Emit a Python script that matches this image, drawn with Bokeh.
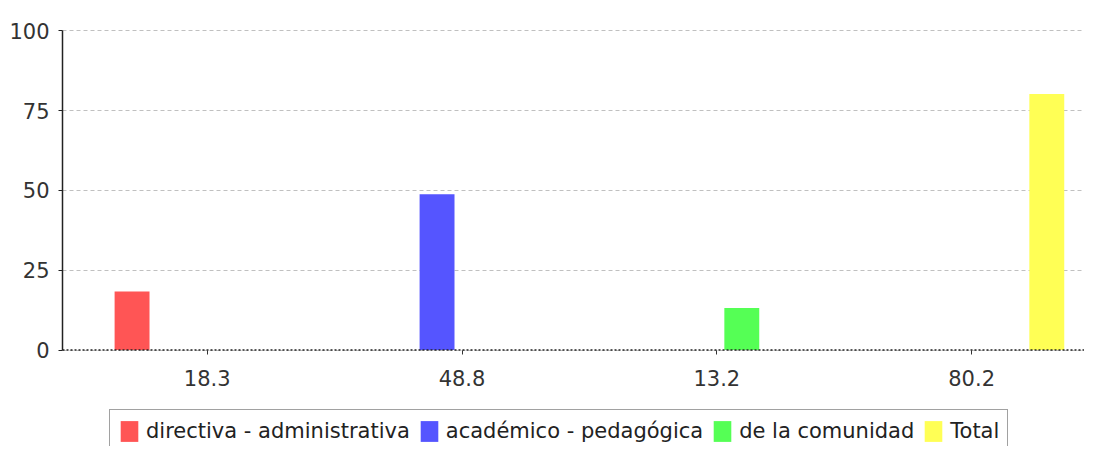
from bokeh.plotting import figure
from bokeh.models import Range1d, FixedTicker, Legend, LegendItem, Span, LinearAxis
from bokeh.embed import file_html
from bokeh.resources import INLINE

categories = ["18.3", "48.8", "13.2", "80.2"]
series_names = ["directiva - administrativa", "académico - pedagógica", "de la comunidad", "Total"]
directiva = [18.3, 0, 0, 0]
academico = [0, 48.8, 0, 0]
comunidad = [0, 0, 13.2, 0]
total = [0, 0, 0, 80.2]
series_values = [directiva, academico, comunidad, total]
colors = ["#FF5555", "#5555FF", "#55FF55", "#FFFF55"]
y_ticks = [0, 25, 50, 75, 100]

FONT = "DejaVu Sans"
FS = "21px"

p = figure(width=1084, height=446, output_backend="svg", toolbar_location=None,
           x_range=Range1d(-0.068, 3.943), y_range=Range1d(-30.24, 100.44),
           min_border_left=62, min_border_top=29, min_border_right=0,
           min_border_bottom=0, x_axis_location=None)
p.outline_line_color = None
p.background_fill_color = "white"

centers = [i + 0.5 for i in range(len(categories))]
offsets = [-0.295, -0.098, 0.098, 0.295]
bar_w = 0.137

items = []
for name, vals, col, off in zip(series_names, series_values, colors, offsets):
    xs = [c + off for c in centers]
    r = p.vbar(x=xs, top=vals, bottom=0, width=bar_w, fill_color=col, line_color=None)
    items.append(LegendItem(label=name, renderers=[r]))

# grid
p.ygrid.ticker = FixedTicker(ticks=y_ticks)
p.ygrid.grid_line_color = "#C0C0C0"
p.ygrid.grid_line_dash = "4 3"
p.xgrid.grid_line_color = None

zero = Span(location=0, dimension="width", line_color="#222222", line_dash="2 2", line_width=1.5)
p.add_layout(zero)

# y axis
ya = p.yaxis[0]
ya.ticker = FixedTicker(ticks=y_ticks)
ya.bounds = (0, 100)
ya.axis_line_color = "#222222"
ya.axis_line_width = 1.5
ya.major_tick_line_color = "#222222"
ya.major_tick_out = 4
ya.major_tick_in = 0
ya.minor_tick_line_color = None
ya.major_label_text_font = FONT
ya.major_label_text_font_size = FS
ya.major_label_text_color = "#333333"
ya.major_label_standoff = 9

# x axis placed at y = 0
xa = LinearAxis(fixed_location=0)
xa.ticker = FixedTicker(ticks=centers)
xa.major_label_overrides = {c: lab for c, lab in zip(centers, categories)}
xa.axis_line_color = None
xa.major_tick_line_color = "#333333"
xa.major_tick_out = 4
xa.major_tick_in = 0
xa.minor_tick_line_color = None
xa.major_label_text_font = FONT
xa.major_label_text_font_size = FS
xa.major_label_text_color = "#333333"
xa.major_label_standoff = 16
p.add_layout(xa, "below")

legend = Legend(items=items, orientation="horizontal", location=(47, -7))
legend.label_text_font = FONT
legend.label_text_font_size = FS
legend.label_text_color = "#222222"
legend.glyph_width = 22
legend.glyph_height = 26
legend.label_standoff = 6
legend.spacing = 8
legend.padding = 8
legend.margin = 0
legend.border_line_color = "#444444"
legend.border_line_width = 1
legend.background_fill_alpha = 1
p.add_layout(legend, "center")

open("out.html", "w").write(file_html(p, INLINE))
